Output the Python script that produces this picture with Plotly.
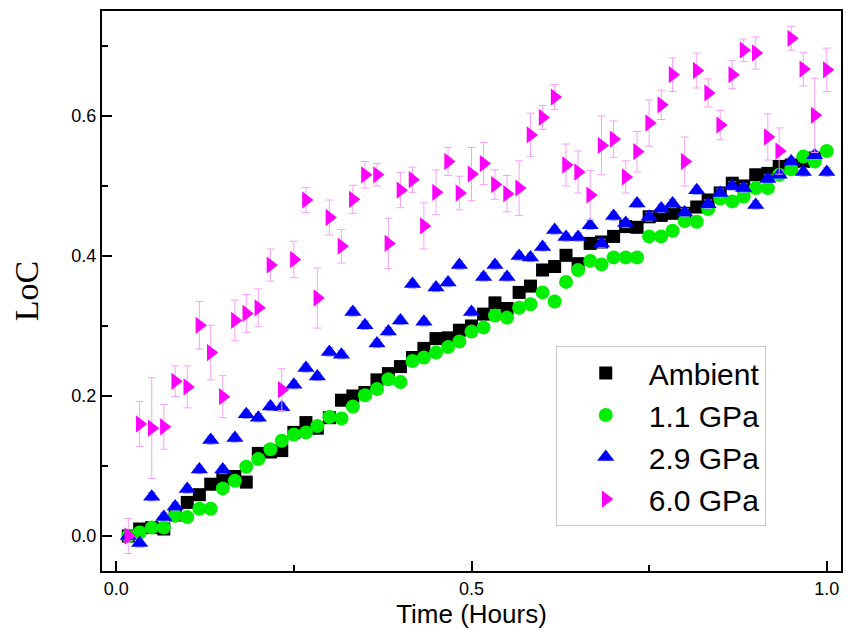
import plotly.graph_objects as go

time_h = [0.017, 0.033, 0.050, 0.067, 0.083, 0.100, 0.117, 0.133, 0.150, 0.167,
          0.183, 0.200, 0.217, 0.233, 0.250, 0.267, 0.283, 0.300, 0.317, 0.333,
          0.350, 0.367, 0.383, 0.400, 0.417, 0.433, 0.450, 0.467, 0.483, 0.500,
          0.517, 0.533, 0.550, 0.567, 0.583, 0.600, 0.617, 0.633, 0.650, 0.667,
          0.683, 0.700, 0.717, 0.733, 0.750, 0.767, 0.783, 0.800, 0.817, 0.833,
          0.850, 0.867, 0.883, 0.900, 0.917, 0.933, 0.950, 0.967, 0.983, 1.000]

ambient = [0.0, 0.010, 0.012, 0.010, 0.030, 0.048, 0.059, 0.074, 0.081, 0.085,
           0.077, 0.118, 0.120, 0.122, 0.148, 0.162, 0.154, 0.169, 0.194, 0.200,
           0.205, 0.223, 0.232, 0.242, 0.255, 0.268, 0.282, 0.283, 0.294, 0.300,
           0.317, 0.333, 0.325, 0.348, 0.357, 0.380, 0.385, 0.401, 0.389, 0.418,
           0.420, 0.428, 0.442, 0.441, 0.456, 0.458, 0.461, 0.461, 0.470, 0.480,
           0.490, 0.504, 0.500, 0.516, 0.518, 0.528, 0.530, 0.535, 0.540]
ambient_err = [0.008] * 59

gpa11 = [0.0, 0.005, 0.012, 0.012, 0.029, 0.027, 0.039, 0.039, 0.068, 0.079,
         0.099, 0.110, 0.124, 0.136, 0.145, 0.148, 0.157, 0.170, 0.168, 0.185,
         0.201, 0.210, 0.224, 0.220, 0.250, 0.255, 0.262, 0.270, 0.278, 0.292,
         0.298, 0.315, 0.312, 0.326, 0.331, 0.348, 0.335, 0.363, 0.380, 0.393,
         0.388, 0.398, 0.398, 0.398, 0.428, 0.428, 0.436, 0.450, 0.449, 0.467,
         0.482, 0.478, 0.485, 0.497, 0.497, 0.516, 0.524, 0.542, 0.535, 0.550]

gpa29 = [0.0, -0.010, 0.056, 0.027, 0.042, 0.067, 0.095, 0.137, 0.095, 0.140,
         0.174, 0.169, 0.185, 0.184, 0.216, 0.240, 0.228, 0.263, 0.259, 0.320,
         0.301, 0.275, 0.292, 0.308, 0.360, 0.306, 0.355, 0.362, 0.387, 0.320,
         0.370, 0.387, 0.370, 0.400, 0.398, 0.413, 0.437, 0.427, 0.427, 0.444,
         0.418, 0.457, 0.447, 0.475, 0.456, 0.468, 0.475, 0.462, 0.494, 0.474,
         0.490, 0.500, 0.497, 0.473, 0.510, 0.516, 0.535, 0.520, 0.544, 0.520]
gpa29_err = [0.006] * 60

gpa60 = [0.0, 0.160, 0.154, 0.156, 0.221, 0.213, 0.301, 0.262, 0.199, 0.308,
         0.318, 0.326, 0.387, 0.209, 0.395, 0.480, 0.340, 0.455, 0.414, 0.481,
         0.516, 0.516, 0.418, 0.494, 0.509, 0.443, 0.491, 0.535, 0.490, 0.517,
         0.532, 0.502, 0.489, 0.497, 0.573, 0.598, 0.627, 0.530, 0.520, 0.487,
         0.558, 0.567, 0.513, 0.549, 0.590, 0.616, 0.659, 0.535, 0.665, 0.633,
         0.587, 0.659, 0.694, 0.690, 0.570, 0.550, 0.711, 0.667, 0.601, 0.666]
gpa60_err = [0.025, 0.032, 0.072, 0.032, 0.022, 0.030, 0.034, 0.039, 0.030, 0.029,
             0.027, 0.027, 0.023, 0.030, 0.026, 0.018, 0.043, 0.025, 0.024, 0.020,
             0.019, 0.016, 0.036, 0.025, 0.018, 0.033, 0.032, 0.020, 0.024, 0.038,
             0.030, 0.021, 0.026, 0.039, 0.031, 0.017, 0.018, 0.030, 0.030, 0.035,
             0.042, 0.026, 0.023, 0.029, 0.033, 0.021, 0.024, 0.035, 0.025, 0.020,
             0.021, 0.020, 0.016, 0.023, 0.033, 0.033, 0.017, 0.024, 0.053, 0.031]

fig = go.Figure()
fig.add_trace(go.Scatter(
    x=time_h[:59], y=ambient, mode="markers", name="Ambient",
    marker=dict(symbol="square", size=13, color="#000000"),
    error_y=dict(type="data", array=ambient_err, color="#8a8a8a", thickness=1, width=4)))
fig.add_trace(go.Scatter(
    x=time_h, y=gpa11, mode="markers", name="1.1 GPa",
    marker=dict(symbol="circle", size=14, color="#00ee00")))
fig.add_trace(go.Scatter(
    x=time_h, y=gpa29, mode="markers", name="2.9 GPa",
    marker=dict(symbol="triangle-up", size=15, color="#0000ff"),
    error_y=dict(type="data", array=gpa29_err, color="#9a9aff", thickness=1, width=4)))
fig.add_trace(go.Scatter(
    x=time_h, y=gpa60, mode="markers", name="6.0 GPa",
    marker=dict(symbol="triangle-right", size=15, color="#ff00ff"),
    error_y=dict(type="data", array=gpa60_err, color="#f7a0f7", thickness=1, width=4)))

axis_common = dict(
    showline=True, linecolor="#000000", linewidth=2, mirror=True,
    ticks="inside", ticklen=10, tickwidth=1.5, tickcolor="#000000",
    showgrid=False, zeroline=False,
    tickfont=dict(family="Arial, Liberation Sans, sans-serif", size=18, color="#000000"),
)

fig.update_xaxes(
    range=[-0.02, 1.02], tick0=0, dtick=0.5, tickformat=".1f",
    minor=dict(dtick=0.25, ticks="inside", ticklen=6, tickcolor="#000000"),
    title=dict(text="Time (Hours)", font=dict(family="Arial, Liberation Sans, sans-serif", size=26, color="#000000"), standoff=4),
    **axis_common)
fig.update_yaxes(
    range=[-0.05, 0.75], tick0=0, dtick=0.2, tickformat=".1f",
    minor=dict(dtick=0.1, ticks="inside", ticklen=6, tickcolor="#000000"),
    title=dict(text="LoC", font=dict(family="Liberation Serif, Times New Roman, serif", size=34, color="#000000"), standoff=22),
    **axis_common)

fig.update_layout(
    width=848, height=634,
    margin=dict(l=102, r=5, t=11, b=63),
    plot_bgcolor="#ffffff", paper_bgcolor="#ffffff",
    legend=dict(
        x=0.614, y=0.241, xanchor="left", yanchor="middle",
        bgcolor="#ffffff", bordercolor="#c8c8c8", borderwidth=1,
        font=dict(family="Arial, Liberation Sans, sans-serif", size=30, color="#000000"),
        itemwidth=76, indentation=6,
    ),
)

fig.write_html("out.html")
